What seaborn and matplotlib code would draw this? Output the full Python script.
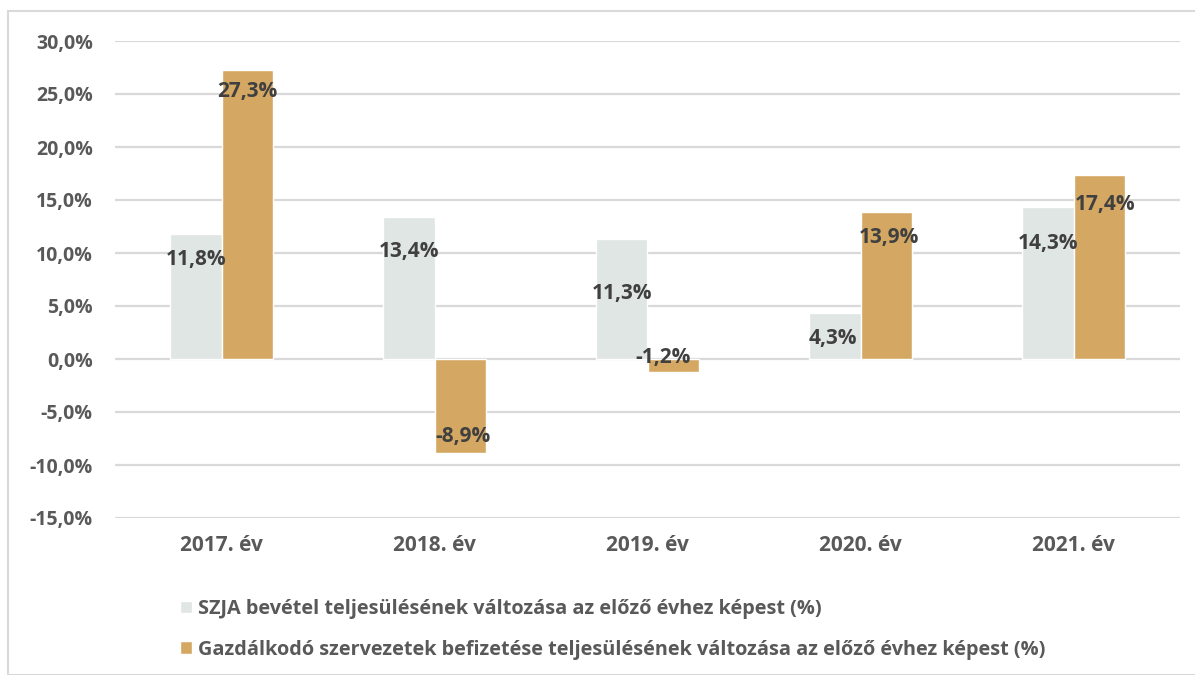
import matplotlib
matplotlib.use("Agg")
import matplotlib.pyplot as plt
from matplotlib.patches import Rectangle
from matplotlib.ticker import FuncFormatter, MultipleLocator
import seaborn as sns
import pandas as pd

# ---- data ----
years = ["2017. év", "2018. év", "2019. év", "2020. év", "2021. év"]
series_names = [
    "SZJA bevétel teljesülésének változása az előző évhez képest (%)",
    "Gazdálkodó szervezetek befizetése teljesülésének változása az előző évhez képest (%)",
]
szja = [11.8, 13.4, 11.3, 4.3, 14.3]
gazd = [27.3, -8.9, -1.2, 13.9, 17.4]

# ---- styling / layout (not data) ----
colors = ["#dfe6e3", "#d4a862"]
label_dy = [[26, 35, 54, 25, 36], [22, -17, -14, 26, 30]]   # px inward from bar end
label_dx = [[0, 0, 0, -2, 0], [0, 3, -10, 3, 6]]

df = pd.DataFrame({
    "year": years * 2,
    "value": szja + gazd,
    "series": [series_names[0]] * len(years) + [series_names[1]] * len(years),
})

sns.set_theme(style="white")
plt.rcParams["font.family"] = ["Open Sans", "DejaVu Sans"]
plt.rcParams["font.weight"] = "bold"

fig = plt.figure(figsize=(11.95, 6.75), dpi=100)
ax = fig.add_axes([115 / 1195, 1 - 518 / 675, (1180 - 115) / 1195, (518 - 41) / 675])

sns.barplot(data=df, x="year", y="value", hue="series", order=years,
            hue_order=series_names, palette=colors, width=0.48,
            saturation=1, ax=ax, legend=True)

ax.set_ylim(-15, 30)
ax.set_xlim(-0.5, 4.5)
ax.yaxis.set_major_locator(MultipleLocator(5))
ax.yaxis.set_major_formatter(FuncFormatter(lambda v, p: f"{v:.1f}%".replace(".", ",")))
ax.grid(axis="y", color="#d9d9d9", linewidth=1.6)
ax.set_axisbelow(True)
for s in ax.spines.values():
    s.set_visible(False)
ax.set_xlabel("")
ax.set_ylabel("")
ax.tick_params(axis="both", length=0, labelsize=14, labelcolor="#595959")
ax.tick_params(axis="x", labelsize=15)
ax.tick_params(axis="y", pad=16)
ax.tick_params(axis="x", pad=12)
for t in ax.get_xticklabels() + ax.get_yticklabels():
    t.set_fontweight("bold")

# value labels
for si, cont in enumerate(ax.containers):
    for bi, patch in enumerate(cont.patches):
        val = patch.get_height()
        xc = patch.get_x() + patch.get_width() / 2
        yend = patch.get_y() + val
        dy = label_dy[si][bi]
        ax.annotate(f"{val:.1f}%".replace(".", ","), (xc, yend),
                    xytext=(label_dx[si][bi], -dy), textcoords="offset pixels",
                    ha="center", va="center", fontsize=15, fontweight="bold",
                    color="#404040")

# legend
leg = ax.get_legend()
handles = leg.legend_handles
leg.remove()
fig.legend(handles, series_names, loc="upper left",
           bbox_to_anchor=(162 / 1195, 1 - 581 / 675), frameon=False,
           labelcolor="#595959", prop={"weight": "bold", "size": 14.3},
           handlelength=0.6, handleheight=0.6, handletextpad=0.3,
           labelspacing=1.05)

# outer border
fig.patches.append(Rectangle((8 / 1195, 0), 1.2, 1 - 11 / 675,
                             transform=fig.transFigure, fill=False,
                             edgecolor="#d9d9d9", linewidth=1.5))

fig.savefig("out.png", dpi=100)
